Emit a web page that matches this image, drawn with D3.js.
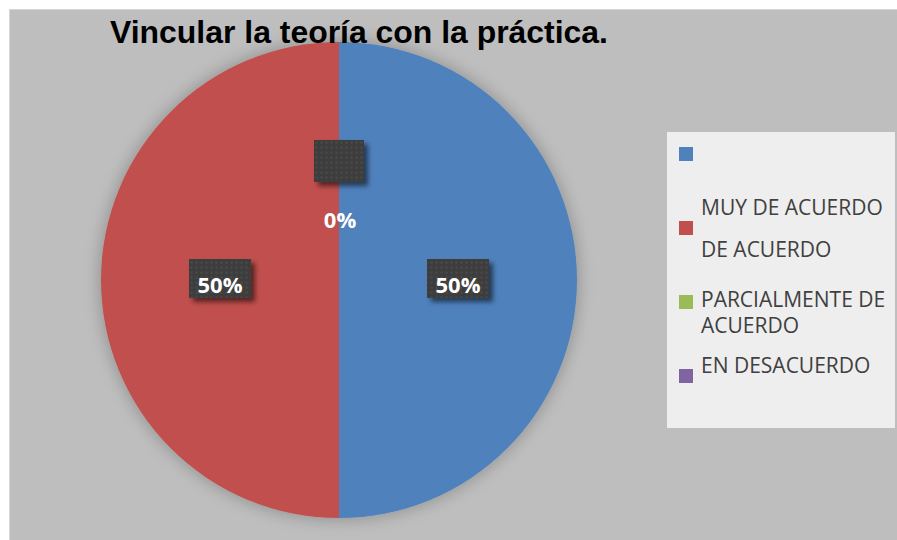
<!DOCTYPE html>
<html>
<head>
<meta charset="utf-8">
<script src="https://cdn.jsdelivr.net/npm/d3@7"></script>
<style>
  body { margin: 0; background: #ffffff; }
  svg { display: block; }
</style>
</head>
<body>
<div id="chart"></div>
<script>
var width = 897;
var height = 540;

// data
var title = "Vincular la teoría con la práctica.";
var categories = ["", "MUY DE ACUERDO\n\nDE ACUERDO", "PARCIALMENTE DE\nACUERDO", "EN DESACUERDO"];
var values = [50, 50, 0, 0];
var colors = ["#4f81bd", "#c0504d", "#9bbb59", "#8064a2"];

var svg = d3.select("#chart")
    .append("svg")
    .attr("width", width)
    .attr("height", height);

var defs = svg.append("defs");

// soft halo round the pie
var halo = defs.append("filter").attr("id", "halo")
    .attr("x", "-20%").attr("y", "-20%").attr("width", "140%").attr("height", "140%");
halo.append("feGaussianBlur").attr("in", "SourceAlpha").attr("stdDeviation", 9).attr("result", "b");
halo.append("feComponentTransfer").attr("in", "b").attr("result", "c")
    .append("feFuncA").attr("type", "linear").attr("slope", 0.28);
var hm = halo.append("feMerge");
hm.append("feMergeNode").attr("in", "c");
hm.append("feMergeNode").attr("in", "SourceGraphic");

// drop shadow of the label boxes
var drop = defs.append("filter").attr("id", "drop")
    .attr("x", "-30%").attr("y", "-30%").attr("width", "170%").attr("height", "170%");
drop.append("feGaussianBlur").attr("in", "SourceAlpha").attr("stdDeviation", 2.5).attr("result", "b");
drop.append("feOffset").attr("in", "b").attr("dx", 4).attr("dy", 4).attr("result", "o");
drop.append("feComponentTransfer").attr("in", "o").attr("result", "c")
    .append("feFuncA").attr("type", "linear").attr("slope", 0.55);
var dm = drop.append("feMerge");
dm.append("feMergeNode").attr("in", "c");
dm.append("feMergeNode").attr("in", "SourceGraphic");

// dotted dark texture
var pat = defs.append("pattern").attr("id", "tex")
    .attr("width", 5).attr("height", 5).attr("patternUnits", "userSpaceOnUse");
pat.append("rect").attr("width", 5).attr("height", 5).attr("fill", "#3d3d3d");
pat.append("circle").attr("cx", 2.5).attr("cy", 2.5).attr("r", 1.5).attr("fill", "#464646");

// chart area
svg.append("rect")
    .attr("x", 9.5).attr("y", 9.5)
    .attr("width", width).attr("height", height)
    .attr("fill", "#bebebe")
    .attr("stroke", "#d6d6d6");

// pie
var cx = 339, cy = 280, r = 238;
var pie = d3.pie().sort(null).value(function(d) { return d; });
var arcs = pie(values);
var arc = d3.arc().innerRadius(0).outerRadius(r);

var pieG = svg.append("g")
    .attr("transform", "translate(" + cx + "," + cy + ")");

pieG.append("g").attr("filter", "url(#halo)")
    .selectAll("path")
    .data(arcs)
    .enter()
    .append("path")
    .attr("d", arc)
    .attr("fill", function(d, i) { return colors[i]; });

// data labels
var labelFont = "'Open Sans', 'DejaVu Sans', sans-serif";
var zeroCount = 0;
arcs.forEach(function(d, i) {
    var c = arc.centroid(d);
    var txt = d3.format(".0%")(d.value / d3.sum(values));
    if (d.value > 0) {
        pieG.append("rect")
            .attr("x", c[0] - 31).attr("y", c[1] - 21)
            .attr("width", 62).attr("height", 39)
            .attr("fill", "url(#tex)")
            .attr("filter", "url(#drop)");
        pieG.append("text")
            .attr("x", c[0]).attr("y", c[1] + 13)
            .attr("text-anchor", "middle")
            .style("font-family", labelFont)
            .style("font-weight", "bold")
            .style("font-size", "22px")
            .style("fill", "#ffffff")
            .text(txt);
    } else if (zeroCount++ === 0) {
        // first empty slice: box left without its text
        pieG.append("rect")
            .attr("x", c[0] - 25).attr("y", c[1] - 21)
            .attr("width", 50).attr("height", 42)
            .attr("fill", "url(#tex)")
            .attr("filter", "url(#drop)");
    } else {
        pieG.append("text")
            .attr("x", c[0] + 1).attr("y", c[1] + 67)
            .attr("text-anchor", "middle")
            .style("font-family", labelFont)
            .style("font-weight", "bold")
            .style("font-size", "22px")
            .style("fill", "#ffffff")
            .text(txt);
    }
});

// title
svg.append("text")
    .attr("x", 110).attr("y", 43)
    .attr("textLength", 498)
    .attr("lengthAdjust", "spacingAndGlyphs")
    .style("font-family", "'Liberation Sans', Arial, sans-serif")
    .style("font-weight", "bold")
    .style("font-size", "31px")
    .style("fill", "#000000")
    .text(title);

// legend
var legend = svg.append("g");
legend.append("rect")
    .attr("x", 667).attr("y", 132)
    .attr("width", 228).attr("height", 296)
    .attr("fill", "#eeeeee");

var swatchY = d3.scalePoint().domain(d3.range(categories.length)).range([154, 376]);
var firstBaseline = [0, -13, 5, -3];
var lineStep = [21, 21, 26, 21];

categories.forEach(function(name, i) {
    var y = swatchY(i);
    legend.append("rect")
        .attr("x", 679).attr("y", y - 7)
        .attr("width", 14).attr("height", 14)
        .attr("fill", colors[i]);
    var t = legend.append("text")
        .attr("x", 701)
        .style("font-family", labelFont)
        .style("font-size", "21px")
        .style("fill", "#404040");
    name.split("\n").forEach(function(line, k) {
        t.append("tspan")
            .attr("x", 701)
            .attr("y", y + firstBaseline[i] + k * lineStep[i])
            .text(line);
    });
});
</script>
</body>
</html>
